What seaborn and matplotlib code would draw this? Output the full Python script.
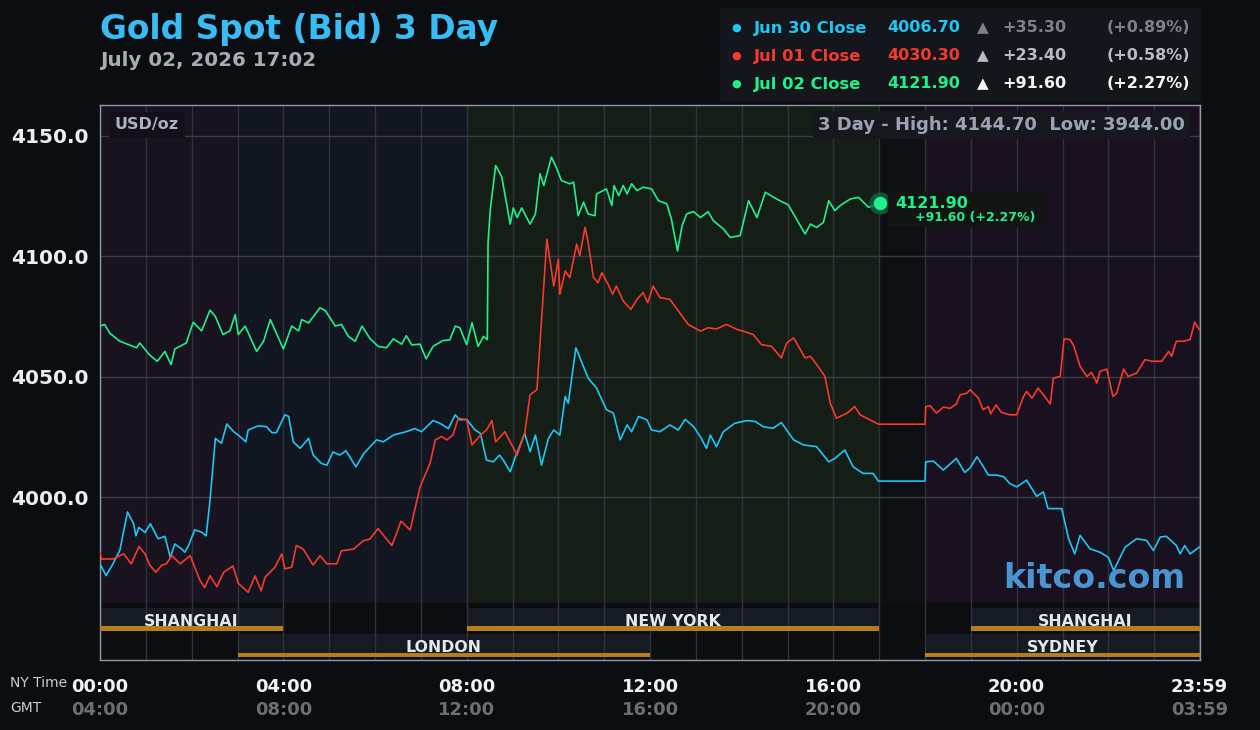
import numpy as np
import pandas as pd
import matplotlib
matplotlib.use('Agg')
import matplotlib.pyplot as plt
from matplotlib.patches import Rectangle
import seaborn as sns

# price data: (minutes after 00:00 NY time, price)
jun30 = [(0, 3972.4), (8, 3967.5), (17, 3972.4), (26, 3978.0), (36, 3993.9), (44, 3989.0), (47, 3984.0),
         (51, 3987.5), (59, 3985.4), (66, 3989.0), (76, 3982.8), (85, 3983.8), (92, 3975.0), (98, 3980.6),
         (107, 3978.5), (111, 3977.2), (116, 3980.0), (124, 3986.5), (133, 3985.5), (139, 3984.0),
         (144, 3998.7), (151, 4024.4), (159, 4022.4), (166, 4030.4), (175, 4027.2), (181, 4025.8),
         (191, 4023.0), (194, 4027.9), (207, 4029.6), (218, 4029.3), (225, 4026.8), (231, 4026.8),
         (242, 4034.2), (247, 4033.5), (253, 4023.0), (262, 4020.3), (273, 4024.4), (279, 4017.5),
         (290, 4014.0), (297, 4013.3), (305, 4018.8), (314, 4017.5), (322, 4019.3), (335, 4012.6),
         (345, 4018.0), (362, 4023.8), (371, 4023.0), (384, 4025.8), (401, 4027.2), (412, 4028.5),
         (421, 4027.2), (436, 4031.8), (445, 4030.7), (456, 4028.5), (465, 4034.2), (471, 4032.1),
         (480, 4032.3), (491, 4027.9), (498, 4026.5), (506, 4015.4), (515, 4014.7), (523, 4017.5),
         (528, 4015.4), (537, 4010.6), (543, 4016.1), (556, 4026.5), (563, 4018.9), (570, 4025.8),
         (578, 4013.3), (587, 4024.4), (594, 4027.9), (602, 4025.8), (609, 4041.8), (613, 4039.0),
         (623, 4062.0), (631, 4055.7), (639, 4049.4), (650, 4045.3), (663, 4036.3), (672, 4034.9),
         (681, 4023.8), (690, 4030.0), (696, 4027.2), (705, 4033.5), (716, 4032.1), (722, 4027.9),
         (733, 4027.2), (746, 4030.0), (757, 4027.9), (766, 4032.3), (777, 4029.3), (786, 4025.1),
         (794, 4020.3), (799, 4025.8), (807, 4021.0), (816, 4027.2), (831, 4030.7), (847, 4031.8),
         (858, 4031.4), (868, 4029.3), (881, 4028.6), (892, 4031.0), (908, 4023.8), (921, 4021.7),
         (938, 4021.0), (954, 4014.7), (962, 4016.1), (975, 4019.6), (986, 4012.6), (999, 4009.9),
         (1012, 4009.9), (1019, 4006.7), (1080, 4006.7), (1081, 4014.7), (1091, 4015.0), (1104, 4011.3),
         (1115, 4014.4), (1121, 4016.1), (1132, 4010.3), (1139, 4012.2), (1148, 4016.8), (1156, 4012.9),
         (1163, 4009.2), (1174, 4009.2), (1183, 4008.5), (1191, 4005.7), (1200, 4004.3), (1213, 4007.1),
         (1226, 4000.4), (1235, 4002.2), (1241, 3995.3), (1259, 3995.3), (1268, 3982.8), (1276, 3976.5),
         (1283, 3984.2), (1296, 3978.6), (1309, 3977.2), (1320, 3975.1), (1327, 3969.6), (1342, 3979.3),
         (1357, 3982.8), (1370, 3982.1), (1379, 3977.9), (1388, 3983.5), (1396, 3983.8), (1409, 3980.0),
         (1414, 3976.5), (1420, 3980.0), (1427, 3976.5), (1439, 3979.3)]

jul01 = [(0, 3977.2), (2, 3974.4), (17, 3974.4), (31, 3976.5), (41, 3972.4), (51, 3979.6), (59, 3976.5),
         (65, 3971.9), (73, 3968.9), (81, 3971.9), (87, 3972.4), (94, 3975.8), (105, 3972.4), (118, 3975.8),
         (131, 3965.4), (137, 3962.6), (144, 3967.4), (153, 3962.9), (162, 3968.9), (174, 3971.5),
         (181, 3964.3), (194, 3960.6), (203, 3967.4), (211, 3961.2), (216, 3966.8), (229, 3971.0),
         (238, 3976.5), (242, 3970.3), (251, 3971.0), (257, 3980.0), (266, 3978.5), (279, 3971.9),
         (288, 3975.8), (297, 3972.4), (310, 3972.4), (316, 3977.8), (332, 3978.5), (345, 3982.0),
         (353, 3982.6), (364, 3987.0), (382, 3980.0), (388, 3984.8), (394, 3990.1), (406, 3986.4),
         (419, 4004.3), (432, 4014.0), (439, 4023.8), (447, 4025.2), (454, 4023.8), (462, 4025.8),
         (469, 4032.8), (480, 4032.1), (487, 4021.7), (498, 4025.8), (506, 4027.9), (513, 4031.8),
         (518, 4023.0), (530, 4027.2), (539, 4021.7), (546, 4017.5), (556, 4026.5), (563, 4042.5),
         (572, 4044.6), (576, 4064.0), (583, 4097.4), (585, 4107.1), (594, 4087.6), (600, 4098.7),
         (602, 4084.2), (609, 4093.9), (615, 4091.1), (624, 4105.0), (628, 4100.2), (635, 4112.0),
         (639, 4105.7), (646, 4091.1), (652, 4089.0), (657, 4093.2), (665, 4088.4), (671, 4084.2),
         (676, 4087.6), (685, 4081.4), (695, 4077.9), (703, 4082.1), (711, 4084.9), (717, 4080.7),
         (724, 4087.6), (733, 4082.8), (746, 4082.1), (759, 4076.5), (770, 4071.7), (786, 4068.9),
         (796, 4070.3), (807, 4069.8), (820, 4071.7), (834, 4069.6), (842, 4068.9), (855, 4067.5),
         (866, 4063.3), (879, 4062.6), (892, 4057.8), (899, 4064.0), (908, 4066.1), (923, 4057.8),
         (930, 4058.5), (940, 4054.3), (949, 4050.1), (956, 4039.0), (964, 4032.8), (978, 4034.9),
         (988, 4037.6), (995, 4034.2), (1008, 4032.1), (1019, 4030.3), (1080, 4030.3), (1081, 4037.6),
         (1087, 4037.9), (1095, 4034.9), (1104, 4037.4), (1113, 4036.9), (1121, 4038.7), (1126, 4042.5),
         (1135, 4043.2), (1139, 4044.6), (1150, 4041.1), (1156, 4036.3), (1163, 4037.6), (1166, 4034.6),
         (1173, 4038.3), (1180, 4035.2), (1191, 4034.2), (1200, 4034.2), (1209, 4041.8), (1213, 4043.9),
         (1220, 4041.1), (1228, 4045.3), (1235, 4042.5), (1244, 4038.7), (1248, 4049.4), (1257, 4050.1),
         (1262, 4065.7), (1270, 4065.4), (1275, 4062.6), (1283, 4054.3), (1292, 4050.1), (1298, 4051.8),
         (1305, 4047.4), (1309, 4052.2), (1318, 4053.2), (1326, 4041.8), (1331, 4043.2), (1340, 4053.2),
         (1346, 4050.1), (1357, 4051.5), (1368, 4057.1), (1377, 4056.4), (1390, 4056.4), (1399, 4060.5),
         (1403, 4058.5), (1409, 4064.7), (1418, 4064.7), (1427, 4065.4), (1433, 4072.6), (1439, 4069.6)]

jul02 = [(0, 4071.0), (6, 4071.7), (13, 4068.0), (26, 4064.7), (48, 4062.0), (52, 4064.0), (65, 4059.0),
         (75, 4056.4), (85, 4060.5), (93, 4055.0), (98, 4061.5), (113, 4064.0), (122, 4072.6), (133, 4069.0),
         (144, 4077.6), (151, 4075.0), (161, 4067.5), (170, 4069.0), (177, 4075.8), (181, 4067.5),
         (190, 4071.0), (205, 4060.5), (214, 4064.6), (223, 4073.7), (240, 4061.5), (251, 4071.0),
         (260, 4069.0), (264, 4073.7), (273, 4072.3), (288, 4078.6), (295, 4077.4), (308, 4071.0),
         (316, 4071.7), (325, 4066.8), (334, 4064.7), (343, 4071.0), (353, 4066.0), (364, 4062.6),
         (375, 4062.0), (384, 4065.7), (395, 4063.5), (401, 4067.0), (408, 4063.2), (419, 4063.5),
         (427, 4057.4), (436, 4062.6), (449, 4065.0), (458, 4065.3), (465, 4071.0), (471, 4070.3),
         (480, 4063.3), (487, 4072.4), (495, 4062.6), (502, 4066.7), (507, 4065.4), (508, 4105.7),
         (511, 4119.6), (518, 4137.6), (526, 4132.8), (537, 4113.3), (541, 4120.0), (546, 4116.0),
         (552, 4120.0), (563, 4113.3), (570, 4117.5), (576, 4134.2), (581, 4129.3), (591, 4141.1),
         (598, 4136.3), (604, 4131.4), (615, 4130.0), (620, 4130.7), (626, 4116.8), (633, 4122.4),
         (639, 4117.5), (648, 4116.8), (650, 4125.8), (663, 4127.9), (670, 4121.0), (673, 4129.3),
         (679, 4125.1), (685, 4129.3), (690, 4125.8), (696, 4130.0), (703, 4127.2), (711, 4128.6),
         (722, 4127.9), (731, 4123.0), (742, 4121.7), (748, 4115.4), (756, 4102.2), (762, 4112.6),
         (768, 4117.5), (777, 4118.5), (786, 4116.0), (796, 4118.5), (803, 4114.7), (816, 4111.3),
         (825, 4107.8), (838, 4108.5), (849, 4123.0), (860, 4116.0), (871, 4126.5), (882, 4124.4),
         (890, 4123.0), (901, 4121.3), (923, 4109.2), (930, 4113.3), (938, 4111.9), (947, 4114.0),
         (954, 4123.0), (962, 4118.9), (969, 4121.0), (982, 4123.7), (993, 4124.4), (1006, 4120.3),
         (1021, 4121.9)]

series_names = ['Jun 30 Close', 'Jul 01 Close', 'Jul 02 Close']
closes = ['4006.70', '4030.30', '4121.90']
changes = ['+35.30', '+23.40', '+91.60']
pcts = ['(+0.89%)', '(+0.58%)', '(+2.27%)']
line_colors = ['#1cc7f2', '#f53a2c', '#1ff08a']
change_colors = ['#7c818b', '#b8bcc3', '#f2f4f6']

yticks = [4000, 4050, 4100, 4150]
xticks = [0, 240, 480, 720, 960, 1200, 1439]
ny_labels = ['00:00', '04:00', '08:00', '12:00', '16:00', '20:00', '23:59']
gmt_labels = ['04:00', '08:00', '12:00', '16:00', '20:00', '00:00', '03:59']

# trading sessions: (name, start min, end min, row)
sessions = [('SHANGHAI', 0, 240, 0), ('NEW YORK', 480, 1020, 0), ('SHANGHAI', 1140, 1440, 0),
            ('LONDON', 180, 720, 1), ('SYDNEY', 1080, 1440, 1)]
# background shading of the price area
shading = [(0, 180, '#19121f'), (180, 480, '#111621'), (480, 1020, '#151d17'),
           (1020, 1080, '#0d0f12'), (1080, 1440, '#19111f')]

BG = '#0b0d11'
W, H = 1260, 730


def fx(x):
    return x / W


def fy(y):
    return 1 - y / H


fig = plt.figure(figsize=(12.6, 7.3), dpi=100, facecolor=BG)
ax = fig.add_axes([fx(100), fy(660), 1100 / W, 555 / H])
ax.set_facecolor('#0b0d10')

price_bottom = 0.103  # axes fraction where the session strip starts
for x0, x1, c in shading:
    ax.axvspan(x0, x1, ymin=price_bottom, ymax=1, color=c, lw=0, zorder=0)

# session strip
for name, x0, x1, row in sessions:
    if row == 0:
        lo, hi = 0.053, 0.094
    else:
        lo, hi = 0.0055, 0.047
    ax.axvspan(x0, x1, ymin=lo, ymax=hi, color='#151a23', lw=0, zorder=0.3)
    ax.axvspan(x0, x1, ymin=lo, ymax=lo + 0.0075, color='#b67f19', lw=0, zorder=3)
    ax.text((x0 + x1) / 2, lo + 0.0082, name, transform=ax.get_xaxis_transform(),
            ha='center', va='baseline', color='#e4e7ec', fontsize=11.3, fontweight='bold', zorder=2.5)

# lines
for data, c in zip([jun30, jul01, jul02], line_colors):
    df = pd.DataFrame(data, columns=['minute', 'price'])
    sns.lineplot(data=df, x='minute', y='price', color=c, lw=1.2, ax=ax,
                 estimator=None, sort=False, zorder=4)

# last point marker
last_t, last_v = jul02[-1]
ax.scatter([last_t], [last_v], s=260, color='#0f6b45', alpha=0.7, zorder=5, lw=0)
ax.scatter([last_t], [last_v], s=95, color='#1ff08a', zorder=6, lw=0)

ax.set_xlim(0, 1440)
ax.set_ylim(3932.5, 4162.7)

ax.set_yticks(yticks)
ax.set_yticklabels(['%.1f' % v for v in yticks], color='#eceef1', fontsize=14.5, fontweight='bold')
ax.set_xticks(xticks)
ax.set_xticklabels(ny_labels, color='#f0f2f5', fontsize=13, fontweight='bold')
ax.set_xticks(np.arange(0, 1441, 60), minor=True)
ax.tick_params(axis='both', which='both', length=0)
ax.tick_params(axis='y', pad=8)
ax.tick_params(axis='x', pad=13)
ax.set_xlabel('')
ax.set_ylabel('')

ax.grid(axis='y', color='#3a3d46', lw=1)
ax.grid(axis='x', which='both', color='#2f323b', lw=1)
ax.set_axisbelow(True)
for s in ax.spines.values():
    s.set_color('#8d98ac')
    s.set_linewidth(1)

# GMT row under the ticks
for t, lab in zip(xticks, gmt_labels):
    ax.text(t, -0.09, lab, transform=ax.get_xaxis_transform(), ha='center', va='center',
            color='#6b6e74', fontsize=13, fontweight='bold', clip_on=False)
fig.text(fx(10), fy(683), 'NY Time', color='#c9cdd3', fontsize=10, va='center')
fig.text(fx(10), fy(708), 'GMT', color='#c9cdd3', fontsize=10, va='center')

# title
fig.text(fx(100), fy(30), 'Gold Spot (Bid) 3 Day', color='#39bcf5', fontsize=23.7, fontweight='bold', va='center')
fig.text(fx(100), fy(60), 'July 02, 2026 17:02', color='#a9acb4', fontsize=14.3, fontweight='bold', va='center')

# legend box
fig.patches.append(Rectangle((fx(720), fy(100)), 480 / W, 92 / H, transform=fig.transFigure,
                             color='#14161b', zorder=0))
for i in range(3):
    y = fy(28 + 28 * i)
    fig.text(fx(736), y, '●', color=line_colors[i], fontsize=8, ha='center', va='center')
    fig.text(fx(754), y, series_names[i], color=line_colors[i], fontsize=11.8, fontweight='bold', va='center')
    fig.text(fx(887), y, closes[i], color=line_colors[i], fontsize=11.5, fontweight='bold', va='center')
    fig.text(fx(983), y, '▲', color=change_colors[i], fontsize=11, ha='center', va='center')
    fig.text(fx(1002), y, changes[i], color=change_colors[i], fontsize=11.5, fontweight='bold', va='center')
    fig.text(fx(1190), y, pcts[i], color=change_colors[i], fontsize=11.5, fontweight='bold', va='center', ha='right')

# inner labels
fig.text(fx(115), fy(125), 'USD/oz', color='#aab2c0', fontsize=11.5, fontweight='bold', va='center',
         bbox=dict(boxstyle='square,pad=0.35', fc='#150f19', ec='none'))
fig.text(fx(1185), fy(125), '3 Day - High: 4144.70  Low: 3944.00', color='#9aa3b3', fontsize=13,
         fontweight='bold', va='center', ha='right',
         bbox=dict(boxstyle='square,pad=0.3', fc='#16181d', ec='none'))

# last value tag (box starts right of the dot so it does not hide it)
fig.patches.append(Rectangle((fx(888), fy(226)), 157 / W, 34 / H, transform=fig.transFigure,
                             color='#121513', zorder=0.5))
fig.text(fx(895), fy(203), closes[2], color=line_colors[2], fontsize=11.5, fontweight='bold', va='center')
fig.text(fx(915), fy(218), changes[2] + ' ' + pcts[2], color=line_colors[2], fontsize=9,
         fontweight='bold', va='center')

fig.text(fx(1185), fy(578), 'kitco.com', color='#4b94d2', fontsize=24, fontweight='bold',
         va='center', ha='right')

fig.savefig('out.png', dpi=100, facecolor=BG)
